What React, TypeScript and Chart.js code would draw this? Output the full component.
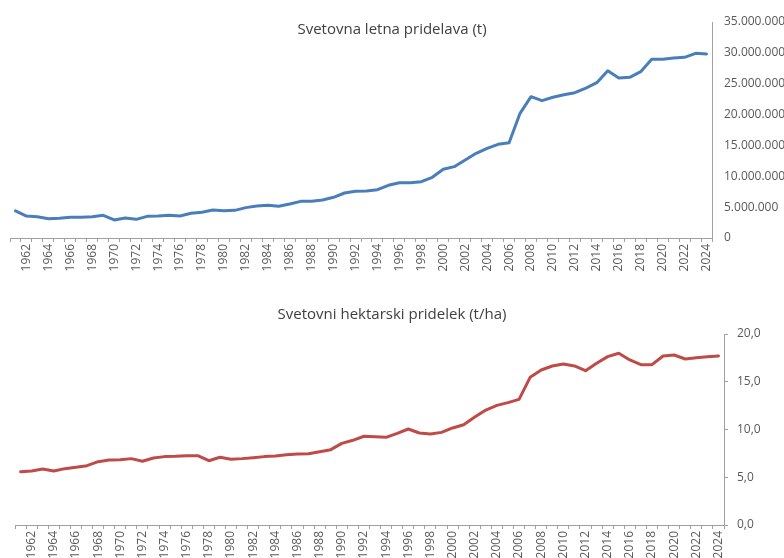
import React, { useEffect, useRef } from "react";
import { Chart, registerables } from "chart.js";
Chart.register(...registerables);

const years = [
  "1961", "1962", "1963", "1964", "1965", "1966", "1967", "1968", "1969", "1970",
  "1971", "1972", "1973", "1974", "1975", "1976", "1977", "1978", "1979", "1980",
  "1981", "1982", "1983", "1984", "1985", "1986", "1987", "1988", "1989", "1990",
  "1991", "1992", "1993", "1994", "1995", "1996", "1997", "1998", "1999", "2000",
  "2001", "2002", "2003", "2004", "2005", "2006", "2007", "2008", "2009", "2010",
  "2011", "2012", "2013", "2014", "2015", "2016", "2017", "2018", "2019", "2020",
  "2021", "2022", "2023", "2024",
];

// Svetovna letna pridelava (t)
const production = [
  4400000, 3560000, 3450000, 3130000, 3190000, 3350000, 3350000, 3450000, 3670000, 2920000,
  3240000, 3020000, 3510000, 3560000, 3670000, 3560000, 4000000, 4160000, 4540000, 4430000,
  4480000, 4920000, 5190000, 5290000, 5130000, 5510000, 5940000, 5940000, 6160000, 6590000,
  7290000, 7560000, 7620000, 7830000, 8540000, 8960000, 8960000, 9120000, 9830000, 11130000,
  11560000, 12640000, 13720000, 14530000, 15180000, 15450000, 20200000, 22900000, 22250000, 22800000,
  23200000, 23550000, 24300000, 25170000, 27100000, 25930000, 26040000, 26950000, 28960000, 28960000,
  29170000, 29280000, 29930000, 29820000,
];

// Svetovni hektarski pridelek (t/ha)
const yieldValues = [
  5.58, 5.65, 5.86, 5.65, 5.9, 6.04, 6.21, 6.63, 6.8, 6.84,
  6.95, 6.67, 7.02, 7.16, 7.19, 7.26, 7.26, 6.73, 7.09, 6.88,
  6.95, 7.05, 7.16, 7.22, 7.36, 7.43, 7.47, 7.68, 7.89, 8.55,
  8.87, 9.29, 9.25, 9.18, 9.6, 10.05, 9.63, 9.53, 9.7, 10.16,
  10.5, 11.3, 12.04, 12.53, 12.81, 13.16, 15.46, 16.23, 16.65, 16.86,
  16.65, 16.16, 16.93, 17.63, 17.98, 17.28, 16.79, 16.79, 17.7, 17.8,
  17.38, 17.52, 17.63, 17.7,
];

const titleTop = "Svetovna letna pridelava (t)";
const titleBottom = "Svetovni hektarski pridelek (t/ha)";

const FONT = '"Open Sans", "Noto Sans", sans-serif';
const TEXT = "#595959";
const AXIS = "#a0a0a0";

function thousands(v: number): string {
  return String(Math.round(v)).replace(/\B(?=(\d{3})+(?!\d))/g, ".");
}

function makeTitlePlugin(text: string, y: number) {
  return {
    id: "customTitle",
    afterDraw(chart: any) {
      const ctx = chart.ctx;
      ctx.save();
      ctx.font = `15px ${FONT}`;
      ctx.fillStyle = "#404040";
      ctx.textAlign = "center";
      ctx.textBaseline = "middle";
      ctx.fillText(text, chart.width / 2, y);
      ctx.restore();
    },
  };
}

function buildConfig(opts: {
  data: number[];
  color: string;
  title: string;
  titleY: number;
  padLeft: number;
  padTop: number;
  yWidth: number;
  yMax: number;
  yStep: number;
  yFormat: (v: number) => string;
  yTickLen: number;
  yPad: number;
}): any {
  return {
    type: "line",
    data: {
      labels: years,
      datasets: [
        {
          data: opts.data,
          borderColor: opts.color,
          backgroundColor: opts.color,
          borderWidth: 3,
          pointRadius: 0,
          tension: 0,
          borderJoinStyle: "round",
          borderCapStyle: "round",
        },
      ],
    },
    options: {
      animation: false,
      responsive: false,
      devicePixelRatio: 1,
      layout: { padding: { left: opts.padLeft, top: opts.padTop, right: 0, bottom: 0 } },
      plugins: { legend: { display: false }, tooltip: { enabled: false }, title: { display: false } },
      scales: {
        x: {
          type: "category",
          offset: true,
          afterFit: (s: any) => {
            s.height = 42;
            s.paddingLeft = 0;
            s.paddingRight = 0;
          },
          grid: {
            display: true,
            offset: true,
            drawOnChartArea: false,
            drawTicks: true,
            tickLength: 4,
            color: AXIS,
          },
          border: { display: true, color: AXIS, width: 1 },
          ticks: {
            autoSkip: false,
            maxRotation: 90,
            minRotation: 90,
            padding: 2,
            color: TEXT,
            font: { family: FONT, size: 12 },
            callback: (_v: any, i: number) => (Number(years[i]) % 2 === 0 ? years[i] : ""),
          },
        },
        y: {
          position: "right",
          min: 0,
          max: opts.yMax,
          afterFit: (s: any) => {
            s.width = opts.yWidth;
            s.paddingTop = 0;
            s.paddingBottom = 0;
          },
          grid: {
            display: true,
            drawOnChartArea: false,
            drawTicks: opts.yTickLen > 0,
            tickLength: opts.yTickLen,
            color: AXIS,
          },
          border: { display: true, color: AXIS, width: 1 },
          ticks: {
            stepSize: opts.yStep,
            padding: opts.yPad,
            color: TEXT,
            font: { family: FONT, size: 12 },
            callback: (v: any) => opts.yFormat(Number(v)),
          },
        },
      },
    },
    plugins: [makeTitlePlugin(opts.title, opts.titleY)],
  };
}

function LineChart(props: { config: any; width: number; height: number; top: number }) {
  const ref = useRef<HTMLCanvasElement | null>(null);
  useEffect(() => {
    if (!ref.current) return;
    const chart = new Chart(ref.current, props.config);
    return () => chart.destroy();
  }, []);
  return (
    <canvas
      ref={ref}
      width={props.width}
      height={props.height}
      style={{ position: "absolute", left: 0, top: props.top, width: props.width, height: props.height }}
    />
  );
}

export default function App() {
  const topConfig = buildConfig({
    data: production,
    color: "#4A7EBB",
    title: titleTop,
    titleY: 30,
    padLeft: 10,
    padTop: 22,
    yWidth: 72,
    yMax: 35000000,
    yStep: 5000000,
    yFormat: thousands,
    yTickLen: 0,
    yPad: 12,
  });
  const bottomConfig = buildConfig({
    data: yieldValues,
    color: "#BE4B48",
    title: titleBottom,
    titleY: 25,
    padLeft: 15,
    padTop: 44,
    yWidth: 60,
    yMax: 20,
    yStep: 5,
    yFormat: (v: number) => v.toFixed(1).replace(".", ","),
    yTickLen: 4,
    yPad: 9,
  });
  return (
    <div
      style={{
        position: "fixed",
        left: 0,
        top: 0,
        width: 784,
        height: 558,
        overflow: "hidden",
        background: "#ffffff",
      }}
    >
      <LineChart config={topConfig} width={784} height={280} top={0} />
      <LineChart config={bottomConfig} width={784} height={277} top={290} />
    </div>
  );
}
